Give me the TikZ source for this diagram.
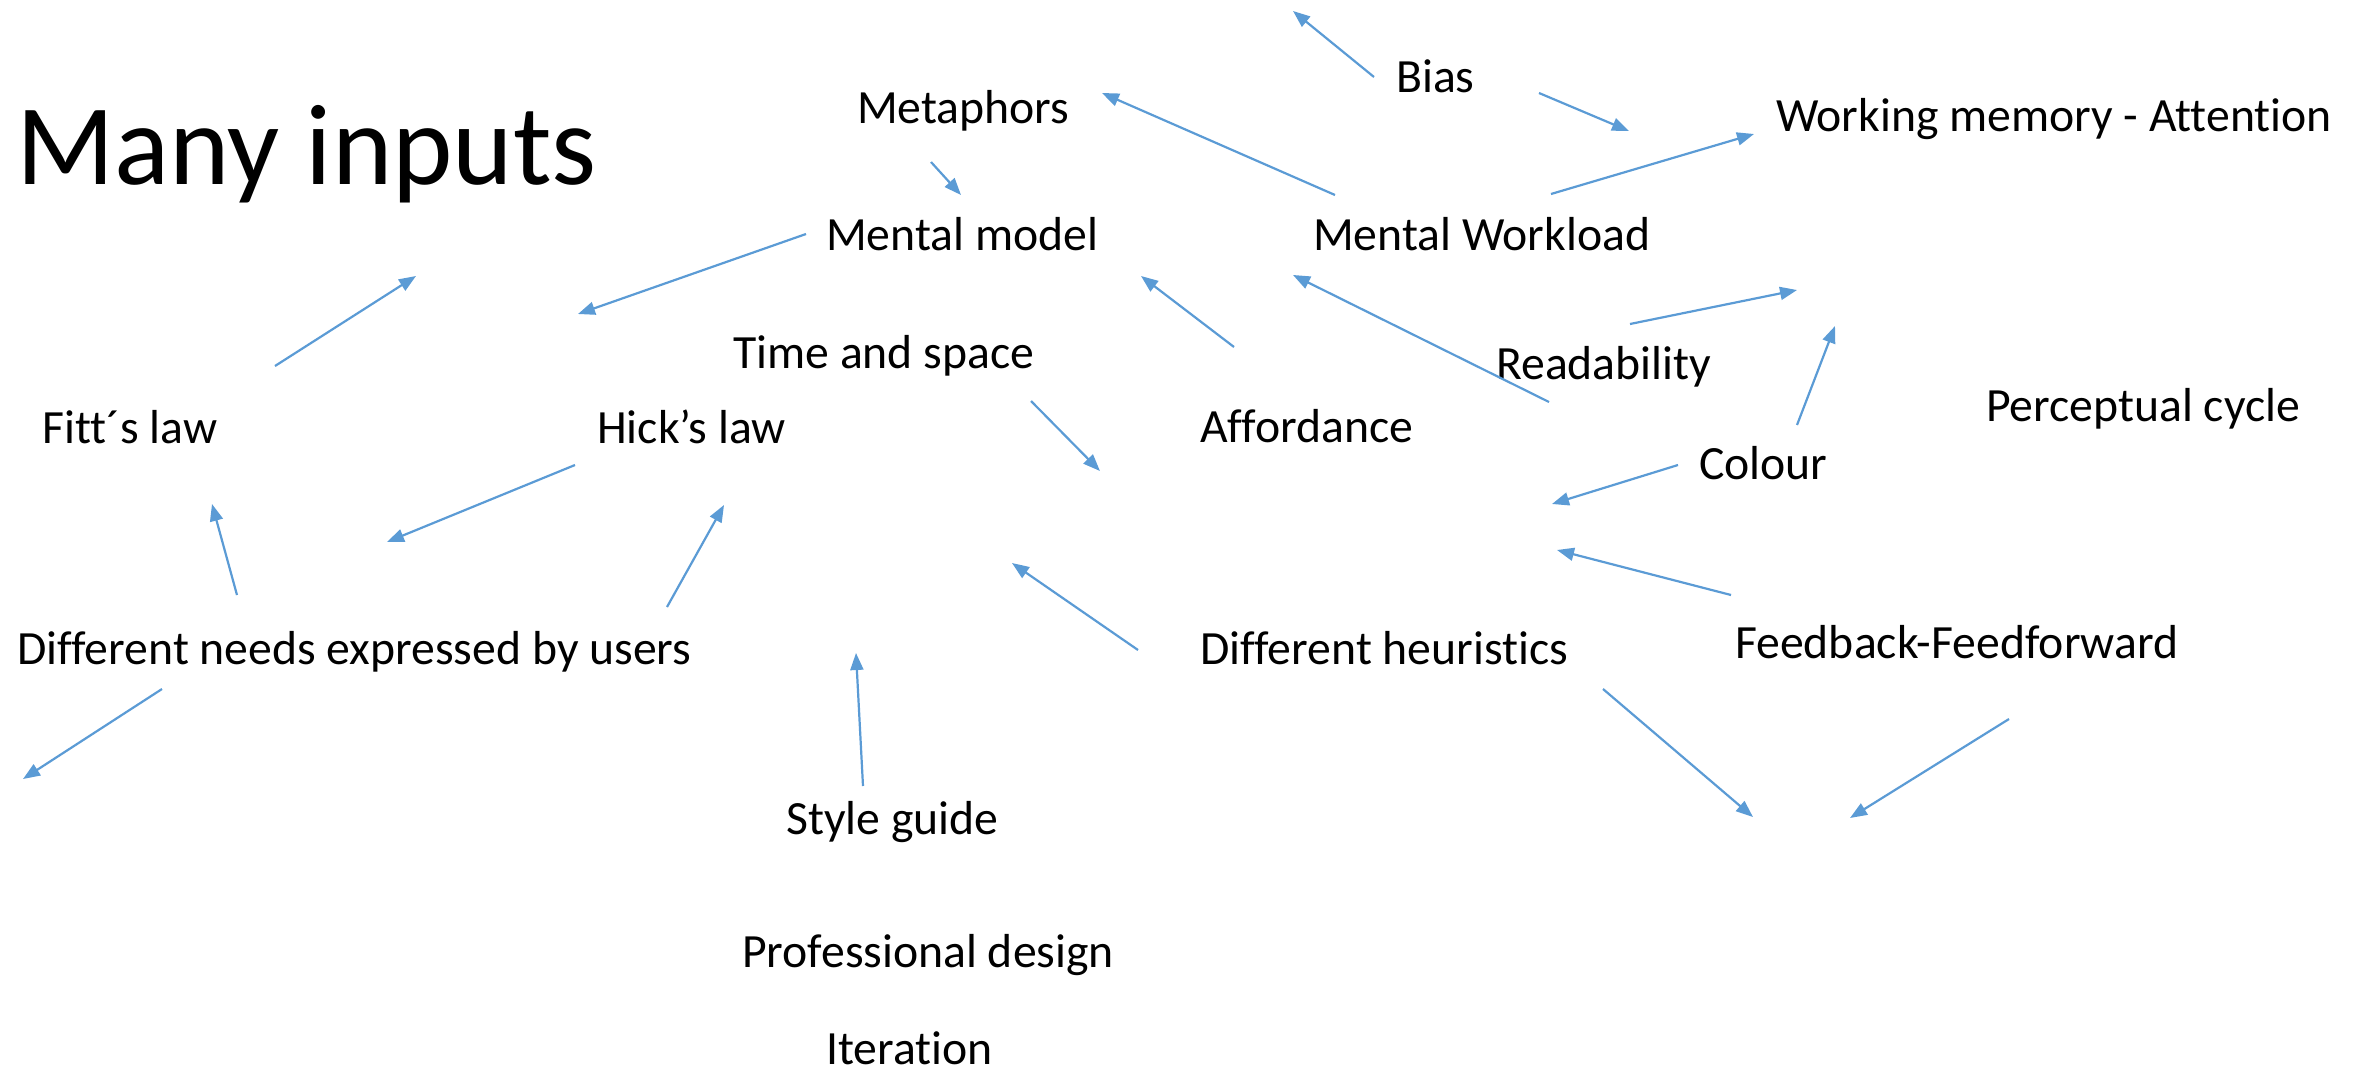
\documentclass[tikz,border=0pt]{standalone}
\usepackage{fontspec}
\setmainfont{Carlito}[Ligatures=NoCommon]
\usetikzlibrary{arrows.meta}
\definecolor{arrowblue}{HTML}{5B9BD5}
\tikzset{
  lbl/.style={anchor=base west, inner sep=0pt, font=\fontsize{47.7}{57}\selectfont},
  ttl/.style={anchor=base west, inner sep=0pt, font=\fontsize{115}{132}\selectfont},
  arr/.style={draw=arrowblue, line width=2.2pt, -{Triangle[length=17pt,width=13pt]}}
}
\begin{document}
\begin{tikzpicture}[x=1pt,y=-1pt]
\useasboundingbox (0,0) rectangle (2354,1074);

% labels
\node[ttl] (title) at (16,184) {Many inputs};
\node[lbl] (metaphors) at (857,123) {Metaphors};
\node[lbl] (bias) at (1396,92) {Bias};
\node[lbl] (wm) at (1776,131) {Working memory - Attention};
\node[lbl] (mmodel) at (826,250) {Mental model};
\node[lbl] (mwork) at (1313,250) {Mental Workload};
\node[lbl] (timespace) at (733,368) {Time and space};
\node[lbl] (read) at (1496,379) {Readability};
\node[lbl] (percept) at (1986,421) {Perceptual cycle};
\node[lbl] (fitt) at (42,443) {Fitt´s law};
\node[lbl] (hick) at (597,443) {Hick’s law};
\node[lbl] (afford) at (1200,442) {Affordance};
\node[lbl] (colour) at (1699,479) {Colour};
\node[lbl] (needs) at (17,664) {Different needs expressed by users};
\node[lbl] (heur) at (1200,664) {Different heuristics};
\node[lbl] (feed) at (1735,658) {Feedback-Feedforward};
\node[lbl] (style) at (786,834) {Style guide};
\node[lbl] (prof) at (742,967) {Professional design};
\node[lbl] (iter) at (826,1064) {Iteration};

% arrow end points
\coordinate (b1s) at (1374,77);   \coordinate (b1e) at (1293,11);
\coordinate (b2s) at (1539,93);   \coordinate (b2e) at (1629,131);
\coordinate (m1s) at (931,162);   \coordinate (m1e) at (961,195);
\coordinate (w1s) at (1335,195);  \coordinate (w1e) at (1102,93);
\coordinate (w2s) at (1551,194);  \coordinate (w2e) at (1754,134);
\coordinate (mm1s) at (806,234);  \coordinate (mm1e) at (578,314);
\coordinate (f1s) at (275,366);   \coordinate (f1e) at (416,276);
\coordinate (r1s) at (1630,324);  \coordinate (r1e) at (1797,290);
\coordinate (l1s) at (1549,402);  \coordinate (l1e) at (1293,275);
\coordinate (a1s) at (1234,347);  \coordinate (a1e) at (1141,276);
\coordinate (t1s) at (1031,401);  \coordinate (t1e) at (1100,471);
\coordinate (h1s) at (575,465);   \coordinate (h1e) at (387,542);
\coordinate (c1s) at (1797,425);  \coordinate (c1e) at (1835,326);
\coordinate (c2s) at (1678,465);  \coordinate (c2e) at (1552,504);
\coordinate (n1s) at (237,595);   \coordinate (n1e) at (212,504);
\coordinate (n2s) at (667,607);   \coordinate (n2e) at (724,505);
\coordinate (n3s) at (162,689);   \coordinate (n3e) at (23,779);
\coordinate (d1s) at (1138,650);  \coordinate (d1e) at (1012,563);
\coordinate (d2s) at (1603,689);  \coordinate (d2e) at (1753,817);
\coordinate (e1s) at (1731,595);  \coordinate (e1e) at (1557,550);
\coordinate (e2s) at (2009,719);  \coordinate (e2e) at (1850,818);
\coordinate (s1s) at (863,786);   \coordinate (s1e) at (856,653);

% connectors
\draw[arr] (b1s) -- (b1e);
\draw[arr] (b2s) -- (b2e);
\draw[arr] (m1s) -- (m1e);
\draw[arr] (w1s) -- (w1e);
\draw[arr] (w2s) -- (w2e);
\draw[arr] (mm1s) -- (mm1e);
\draw[arr] (f1s) -- (f1e);
\draw[arr] (r1s) -- (r1e);
\draw[arr] (l1s) -- (l1e);
\draw[arr] (a1s) -- (a1e);
\draw[arr] (t1s) -- (t1e);
\draw[arr] (h1s) -- (h1e);
\draw[arr] (c1s) -- (c1e);
\draw[arr] (c2s) -- (c2e);
\draw[arr] (n1s) -- (n1e);
\draw[arr] (n2s) -- (n2e);
\draw[arr] (n3s) -- (n3e);
\draw[arr] (d1s) -- (d1e);
\draw[arr] (d2s) -- (d2e);
\draw[arr] (e1s) -- (e1e);
\draw[arr] (e2s) -- (e2e);
\draw[arr] (s1s) -- (s1e);
\end{tikzpicture}
\end{document}
